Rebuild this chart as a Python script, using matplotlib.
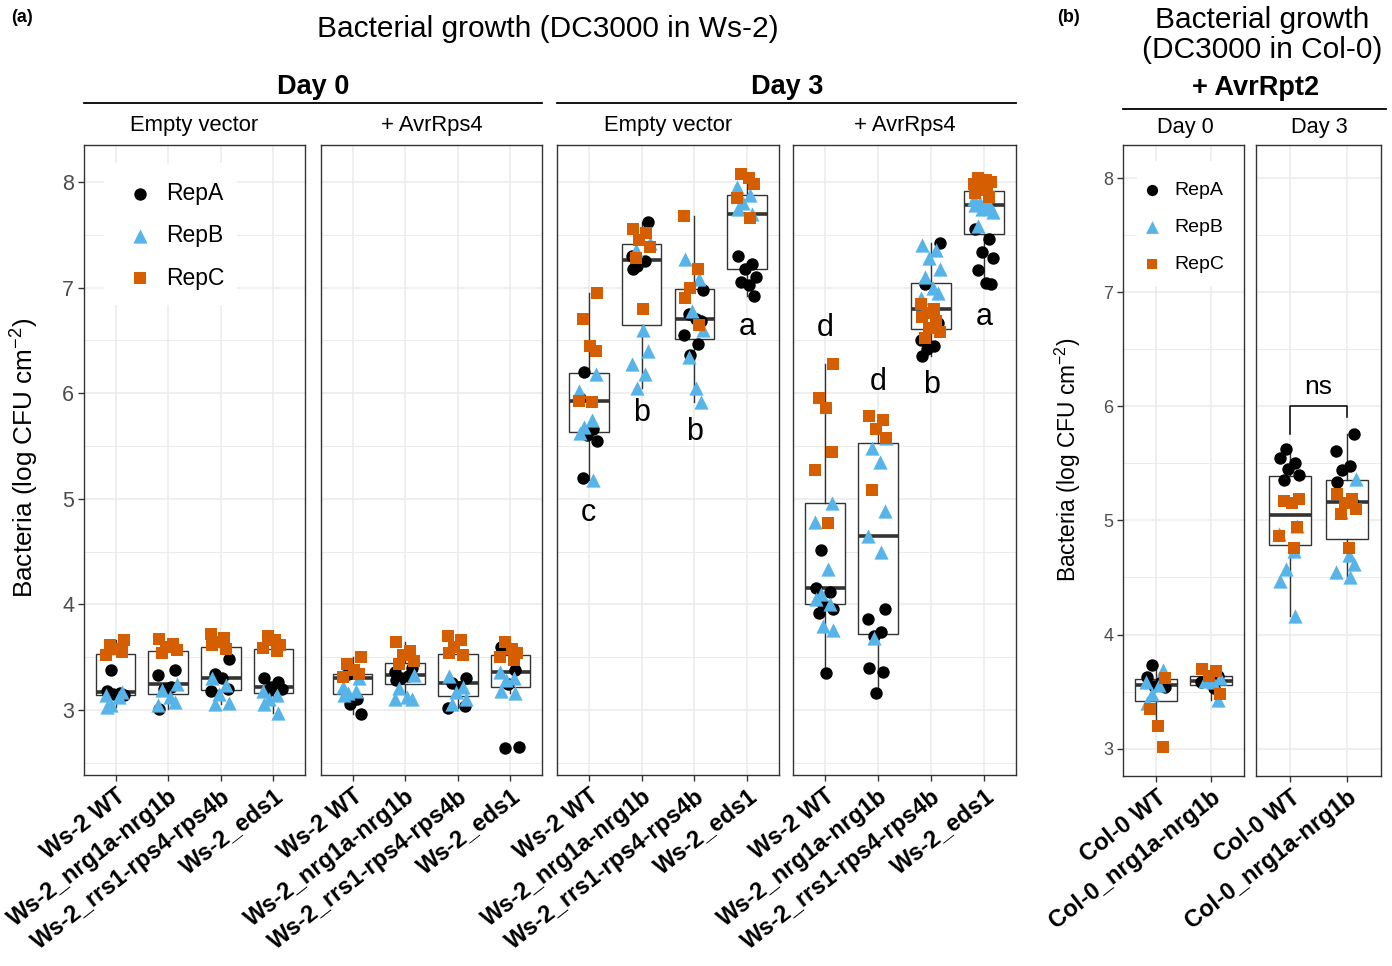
import numpy as np
import matplotlib
matplotlib.use('Agg')
import matplotlib.pyplot as plt
from matplotlib.lines import Line2D
from matplotlib.patches import Rectangle

plt.rcParams['font.family'] = ['Liberation Sans', 'DejaVu Sans']
plt.rcParams['mathtext.fontset'] = 'custom'
plt.rcParams['mathtext.rm'] = 'Liberation Sans'
plt.rcParams['mathtext.it'] = 'Liberation Sans:italic'
plt.rcParams['mathtext.bf'] = 'Liberation Sans:bold'

# ---------------- data ----------------
genotypes_a = ['Ws-2 WT', 'Ws-2_nrg1a-nrg1b', 'Ws-2_rrs1-rps4-rps4b', 'Ws-2_eds1']
genotypes_b = ['Col-0 WT', 'Col-0_nrg1a-nrg1b']
reps = ['RepA', 'RepB', 'RepC']

# Panel (a) Day 0, Empty vector
d0_ev_A = [[3.38, 3.18, 3.16, 3.15, 3.14], [3.38, 3.33, 3.22, 3.20, 3.01],
           [3.48, 3.34, 3.30, 3.20, 3.18], [3.30, 3.27, 3.22, 3.20, 3.18]]
d0_ev_B = [[3.17, 3.14, 3.12, 3.05, 3.03], [3.25, 3.19, 3.12, 3.08, 3.05],
           [3.30, 3.24, 3.15, 3.07, 3.06], [3.18, 3.14, 3.10, 3.06, 2.97]]
d0_ev_C = [[3.66, 3.62, 3.58, 3.55, 3.52], [3.67, 3.63, 3.60, 3.57, 3.54],
           [3.72, 3.68, 3.64, 3.62, 3.58], [3.70, 3.66, 3.62, 3.59, 3.56]]
# Panel (a) Day 0, + AvrRps4
d0_avr_A = [[3.34, 3.32, 3.10, 3.06, 2.96], [3.40, 3.36, 3.32, 3.30, 3.28],
            [3.30, 3.26, 3.22, 3.04, 3.02], [3.60, 3.38, 3.25, 2.65, 2.64]]
d0_avr_B = [[3.30, 3.22, 3.18, 3.16, 3.14], [3.33, 3.21, 3.12, 3.10, 3.10],
            [3.32, 3.22, 3.17, 3.10, 3.06], [3.36, 3.30, 3.28, 3.18, 3.16]]
d0_avr_C = [[3.50, 3.44, 3.38, 3.34, 3.31], [3.64, 3.56, 3.52, 3.46, 3.44],
            [3.70, 3.66, 3.60, 3.54, 3.52], [3.64, 3.58, 3.54, 3.50, 3.47]]
# Panel (a) Day 3, Empty vector
d3_ev_A = [[6.20, 5.95, 5.66, 5.60, 5.55, 5.20], [7.62, 7.30, 7.25, 7.20, 7.18],
           [6.98, 6.75, 6.70, 6.68, 6.55, 6.47, 6.36], [7.30, 7.22, 7.18, 7.10, 7.05, 7.02, 6.92]]
d3_ev_B = [[6.18, 6.02, 5.75, 5.68, 5.62, 5.18], [7.42, 7.36, 6.60, 6.40, 6.28, 6.18, 6.05],
           [7.27, 7.08, 6.78, 6.60, 6.34, 6.05, 5.92], [7.95, 7.88, 7.80, 7.74, 7.70]]
d3_ev_C = [[6.95, 6.70, 6.45, 6.40, 5.93, 5.92], [7.55, 7.52, 7.45, 7.38, 7.28, 6.80],
           [7.68, 7.18, 7.00, 6.90, 6.65], [8.08, 8.04, 7.98, 7.85, 7.66]]
# Panel (a) Day 3, + AvrRps4
d3_avr_A = [[4.52, 4.16, 4.12, 4.00, 3.96, 3.92, 3.35], [3.96, 3.86, 3.74, 3.70, 3.40, 3.36, 3.16],
            [7.42, 7.03, 6.80, 6.66, 6.50, 6.45, 6.42, 6.35], [7.55, 7.46, 7.34, 7.28, 7.17, 7.04, 7.03]]
d3_avr_B = [[4.96, 4.78, 4.34, 4.10, 4.05, 4.00, 3.80, 3.76], [5.58, 5.48, 5.35, 4.88, 4.65, 4.50, 3.68],
            [7.40, 7.36, 7.28, 7.18, 7.10, 7.00, 6.95, 6.90], [7.84, 7.82, 7.80, 7.78, 7.76, 7.74, 7.72, 7.58]]
d3_avr_C = [[6.28, 5.95, 5.86, 5.44, 5.27, 4.77], [5.78, 5.75, 5.66, 5.58, 5.08],
            [6.84, 6.80, 6.76, 6.72, 6.68, 6.62, 6.58, 6.52], [8.04, 8.02, 8.00, 7.98, 7.96, 7.92, 7.90, 7.86]]
letters_d3_ev = ['c', 'b', 'b', 'a']
letters_d3_avr = ['d', 'd', 'b', 'a']

# Panel (b) + AvrRpt2
b_d0_A = [[3.73, 3.63, 3.58, 3.55, 3.54], [3.64, 3.58, 3.53]]
b_d0_B = [[3.69, 3.58, 3.56, 3.48, 3.40], [3.62, 3.59, 3.58, 3.43]]
b_d0_C = [[3.62, 3.35, 3.20, 3.01], [3.70, 3.68, 3.64, 3.48]]
b_d3_A = [[5.63, 5.55, 5.50, 5.45, 5.40, 5.35], [5.76, 5.61, 5.48, 5.44, 5.34, 5.17]]
b_d3_B = [[4.95, 4.88, 4.73, 4.57, 4.47, 4.16], [5.36, 5.07, 4.70, 4.62, 4.55, 4.50]]
b_d3_C = [[5.19, 5.17, 5.15, 4.94, 4.86, 4.76], [5.23, 5.19, 5.15, 5.10, 5.06, 4.76]]
sig_label = 'ns'

# ---------------- style ----------------
W, H = 1392, 966
fig = plt.figure(figsize=(W / 100, H / 100), dpi=100)
COL_A, COL_B, COL_C = '#000000', '#56B4E9', '#D55E00'
GRID = '#ebebeb'
DARK = '#333333'
JIT = np.array([-0.17, 0.09, -0.04, 0.16, -0.11, 0.03, 0.13, -0.19, 0.06, -0.08])


def px(x, y):
    return x / W, 1 - y / H


def add_ax(x0, x1, y0, y1):
    return fig.add_axes([x0 / W, 1 - y1 / H, (x1 - x0) / W, (y1 - y0) / H])


def jit(n, k):
    return np.roll(JIT, 3 * k + 1)[:n]


def draw_panel(ax, A, B, C, labels, ylim, first, ytick_fs, minor):
    n = len(labels)
    data = [A[i] + B[i] + C[i] for i in range(n)]
    ax.boxplot(data, positions=list(range(n)), widths=0.75, patch_artist=True,
               showfliers=False, showcaps=False, whis=1.5, zorder=2,
               medianprops=dict(color=DARK, lw=2.6, solid_capstyle='butt'),
               boxprops=dict(facecolor='white', edgecolor=DARK, lw=1.0),
               whiskerprops=dict(color=DARK, lw=1.0))
    for i in range(n):
        ax.scatter(i + jit(len(A[i]), i), A[i], marker='o', s=80, color=COL_A,
                   linewidths=0, zorder=3)
        ax.scatter(i + jit(len(B[i]), i + 1), B[i], marker='^', s=105, color=COL_B,
                   linewidths=0, zorder=3)
        ax.scatter(i + jit(len(C[i]), i + 2), C[i], marker='s', s=75, color=COL_C,
                   linewidths=0, zorder=3)
    ax.set_xlim(-0.6, n - 0.4)
    ax.set_ylim(*ylim)
    ax.set_yticks([3, 4, 5, 6, 7, 8])
    ax.set_yticks(minor, minor=True)
    ax.grid(True, which='major', color=GRID, lw=1.1)
    ax.grid(True, which='minor', axis='y', color=GRID, lw=0.7)
    ax.set_axisbelow(True)
    ax.set_xticks(list(range(n)))
    ax.set_xticklabels(labels, rotation=38, ha='right', va='top',
                       rotation_mode='anchor', fontsize=17, fontweight='bold')
    ax.tick_params(axis='x', length=4, width=1, color=DARK, pad=3)
    ax.tick_params(which='minor', length=0)
    if first:
        ax.tick_params(axis='y', length=4, width=1, color=DARK, labelcolor='#4d4d4d',
                       labelsize=ytick_fs, pad=3)
    else:
        ax.tick_params(axis='y', left=False, labelleft=False)
    for s in ax.spines.values():
        s.set_color(DARK)
        s.set_linewidth(1.0)


# ---------------- panel (a) ----------------
ylim_a = (2.385, 8.35)
minor_a = [2.5, 3.5, 4.5, 5.5, 6.5, 7.5]
xr_a = [(84, 305), (321, 542), (557, 779), (793, 1016)]
sets_a = [(d0_ev_A, d0_ev_B, d0_ev_C), (d0_avr_A, d0_avr_B, d0_avr_C),
          (d3_ev_A, d3_ev_B, d3_ev_C), (d3_avr_A, d3_avr_B, d3_avr_C)]
axes_a = []
for k, ((x0, x1), (A, B, C)) in enumerate(zip(xr_a, sets_a)):
    ax = add_ax(x0, x1, 145, 775)
    draw_panel(ax, A, B, C, genotypes_a, ylim_a, k == 0, 15.5, minor_a)
    axes_a.append(ax)

letter_y_ev = [4.87, 5.81, 5.63, 6.63]
letter_y_avr = [6.62, 6.11, 6.08, 6.72]
for i, (l, y) in enumerate(zip(letters_d3_ev, letter_y_ev)):
    axes_a[2].text(i, y, l, ha='center', va='center', fontsize=22, zorder=4)
for i, (l, y) in enumerate(zip(letters_d3_avr, letter_y_avr)):
    axes_a[3].text(i, y, l, ha='center', va='center', fontsize=22, zorder=4)

# legend (a)
axL = axes_a[0]
axL.add_patch(Rectangle((-0.22, 6.835), 2.53, 1.345, facecolor='white', edgecolor='none', zorder=1.5))
leg_y_a = [7.89, 7.49, 7.09]
for (m, c, s), y, lab in zip([('o', COL_A, 80), ('^', COL_B, 105), ('s', COL_C, 75)], leg_y_a, reps):
    axL.scatter([0.464], [y], marker=m, s=s, color=c, linewidths=0, zorder=4)
    axL.text(0.958, y, lab, ha='left', va='center', fontsize=16.5, zorder=4)

# headers (a)
fig.text(*px(22, 18), '(a)', fontsize=13, fontweight='bold', ha='center', va='center')
fig.text(*px(548, 29), 'Bacterial growth (DC3000 in Ws-2)', fontsize=21.5, ha='center', va='center')
fig.text(*px(313, 87), 'Day 0', fontsize=19.5, fontweight='bold', ha='center', va='center')
fig.text(*px(787, 87), 'Day 3', fontsize=19.5, fontweight='bold', ha='center', va='center')
fig.add_artist(Line2D([84 / W, 542 / W], [1 - 103 / H] * 2, color='black', lw=1.3))
fig.add_artist(Line2D([557 / W, 1016 / W], [1 - 103 / H] * 2, color='black', lw=1.3))
for (x0, x1), lab in zip(xr_a, ['Empty vector', '+ AvrRps4', 'Empty vector', '+ AvrRps4']):
    fig.text(*px((x0 + x1) / 2, 125), lab, fontsize=15.8, ha='center', va='center')
fig.text(*px(25, 458), r'Bacteria (log CFU cm$^{-2}$)', fontsize=18.8, rotation=90,
         ha='center', va='center')

# ---------------- panel (b) ----------------
ylim_b = (2.76, 8.29)
minor_b = [3.5, 4.5, 5.5, 6.5, 7.5]
xr_b = [(1123, 1244), (1256, 1381)]
sets_b = [(b_d0_A, b_d0_B, b_d0_C), (b_d3_A, b_d3_B, b_d3_C)]
axes_b = []
for k, ((x0, x1), (A, B, C)) in enumerate(zip(xr_b, sets_b)):
    ax = add_ax(x0, x1, 145, 776)
    draw_panel(ax, A, B, C, genotypes_b, ylim_b, k == 0, 13, minor_b)
    axes_b.append(ax)

# significance bracket
axS = axes_b[1]
axS.plot([0, 0, 1, 1], [5.76, 6.0, 6.0, 5.91], color='black', lw=1.1, zorder=4)
axS.text(0.5, 6.06, sig_label, ha='center', va='bottom', fontsize=19, zorder=4)

# legend (b)
axLb = axes_b[0]
axLb.add_patch(Rectangle((-0.35, 7.05), 2.2, 1.1, facecolor='white', edgecolor='none', zorder=1.5))
leg_y_b = [7.895, 7.571, 7.247]
for (m, c, s), y, lab in zip([('o', COL_A, 65), ('^', COL_B, 85), ('s', COL_C, 60)], leg_y_b, reps):
    axLb.scatter([-0.073], [y], marker=m, s=s, color=c, linewidths=0, zorder=4)
    axLb.text(0.327, y, lab, ha='left', va='center', fontsize=14, zorder=4)

fig.text(*px(1068, 18), '(b)', fontsize=13, fontweight='bold', ha='center', va='center')
fig.text(*px(1262, 20), 'Bacterial growth', fontsize=21.5, ha='center', va='center')
fig.text(*px(1262, 50), '(DC3000 in Col-0)', fontsize=21.5, ha='center', va='center')
fig.text(*px(1256, 88), '+ AvrRpt2', fontsize=19.5, fontweight='bold', ha='center', va='center')
fig.add_artist(Line2D([1123 / W, 1386 / W], [1 - 109 / H] * 2, color='black', lw=1.3))
fig.text(*px(1185, 127), 'Day 0', fontsize=15.7, ha='center', va='center')
fig.text(*px(1319, 127), 'Day 3', fontsize=15.7, ha='center', va='center')
fig.text(*px(1068, 460), r'Bacteria (log CFU cm$^{-2}$)', fontsize=16.4, rotation=90,
         ha='center', va='center')

fig.savefig('out.png', dpi=100)
